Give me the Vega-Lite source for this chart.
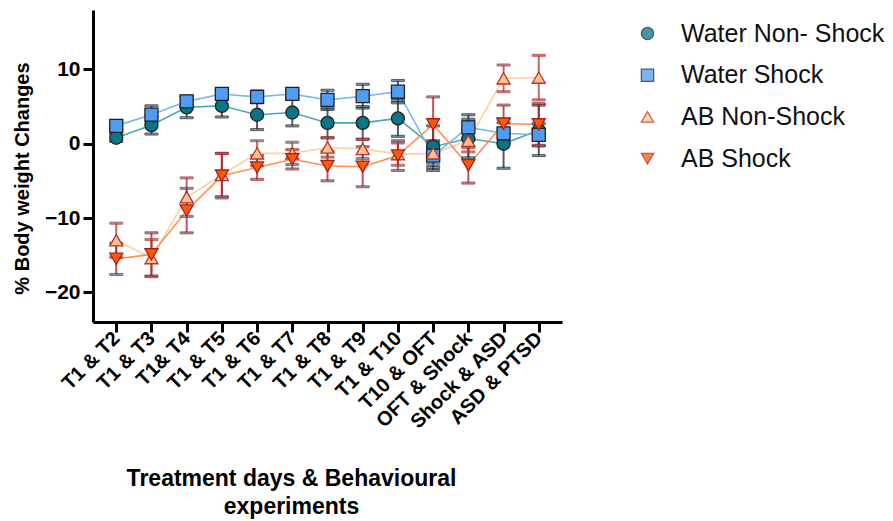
{
  "$schema": "https://vega.github.io/schema/vega-lite/v6.json",
  "width": 469,
  "height": 312,
  "autosize": {"type": "none"},
  "padding": {"left": 93, "top": 10, "right": 331, "bottom": 199},
  "background": "white",
  "config": {
    "view": {"stroke": null},
    "font": "Liberation Sans",
    "axis": {"grid": false, "domainColor": "black", "domainWidth": 3, "tickColor": "black", "tickWidth": 3, "tickSize": 10, "labelFont": "Liberation Sans", "titleFont": "Liberation Sans", "labelColor": "black", "titleColor": "black"},
    "legend": {"labelFontSize": 25, "labelFont": "Liberation Sans", "labelColor": "#111", "symbolSize": 150, "rowPadding": 15.7, "labelOffset": 21, "symbolStrokeWidth": 1.3, "labelLimit": 400}
  },
  "data": {
    "values": [
      {"t": "T1 & T2", "g": "Water Non- Shock", "m": 0.8, "lo": 0.3, "hi": 1.3},
      {"t": "T1 & T3", "g": "Water Non- Shock", "m": 2.5, "lo": 1.3, "hi": 3.7},
      {"t": "T1& T4", "g": "Water Non- Shock", "m": 4.9, "lo": 3.5, "hi": 6.3},
      {"t": "T1 & T5", "g": "Water Non- Shock", "m": 5.1, "lo": 3.6, "hi": 6.6},
      {"t": "T1 & T6", "g": "Water Non- Shock", "m": 3.9, "lo": 1.9, "hi": 5.9},
      {"t": "T1 & T7", "g": "Water Non- Shock", "m": 4.2, "lo": 2.4, "hi": 6.0},
      {"t": "T1 & T8", "g": "Water Non- Shock", "m": 2.8, "lo": 0.8, "hi": 4.8},
      {"t": "T1 & T9", "g": "Water Non- Shock", "m": 2.8, "lo": 0.6, "hi": 5.0},
      {"t": "T1 & T10", "g": "Water Non- Shock", "m": 3.4, "lo": 1.0, "hi": 5.8},
      {"t": "T10 & OFT", "g": "Water Non- Shock", "m": -0.4, "lo": -3.2, "hi": 2.4},
      {"t": "OFT & Shock", "g": "Water Non- Shock", "m": 0.7, "lo": -1.9, "hi": 3.3},
      {"t": "Shock & ASD", "g": "Water Non- Shock", "m": 0.0, "lo": -3.3, "hi": 3.3},
      {"t": "ASD & PTSD", "g": "Water Non- Shock", "m": 1.8, "lo": -1.6, "hi": 5.2},

      {"t": "T1 & T2", "g": "Water Shock", "m": 2.4, "lo": 1.9, "hi": 2.9},
      {"t": "T1 & T3", "g": "Water Shock", "m": 3.9, "lo": 2.7, "hi": 5.1},
      {"t": "T1& T4", "g": "Water Shock", "m": 5.7, "lo": 5.0, "hi": 6.4},
      {"t": "T1 & T5", "g": "Water Shock", "m": 6.7, "lo": 6.1, "hi": 7.3},
      {"t": "T1 & T6", "g": "Water Shock", "m": 6.3, "lo": 5.5, "hi": 7.1},
      {"t": "T1 & T7", "g": "Water Shock", "m": 6.7, "lo": 6.2, "hi": 7.2},
      {"t": "T1 & T8", "g": "Water Shock", "m": 5.9, "lo": 4.6, "hi": 7.2},
      {"t": "T1 & T9", "g": "Water Shock", "m": 6.4, "lo": 4.8, "hi": 8.0},
      {"t": "T1 & T10", "g": "Water Shock", "m": 7.0, "lo": 5.5, "hi": 8.5},
      {"t": "T10 & OFT", "g": "Water Shock", "m": -1.6, "lo": -3.6, "hi": 0.4},
      {"t": "OFT & Shock", "g": "Water Shock", "m": 2.2, "lo": 0.5, "hi": 3.9},
      {"t": "Shock & ASD", "g": "Water Shock", "m": 1.4, "lo": 0.0, "hi": 2.8},
      {"t": "ASD & PTSD", "g": "Water Shock", "m": 1.2, "lo": -0.3, "hi": 2.7},

      {"t": "T1 & T2", "g": "AB Non-Shock", "m": -13.0, "lo": -15.3, "hi": -10.7},
      {"t": "T1 & T3", "g": "AB Non-Shock", "m": -15.4, "lo": -17.9, "hi": -12.9},
      {"t": "T1& T4", "g": "AB Non-Shock", "m": -7.2, "lo": -9.8, "hi": -4.6},
      {"t": "T1 & T5", "g": "AB Non-Shock", "m": -4.2, "lo": -7.1, "hi": -1.3},
      {"t": "T1 & T6", "g": "AB Non-Shock", "m": -1.3, "lo": -3.0, "hi": 0.4},
      {"t": "T1 & T7", "g": "AB Non-Shock", "m": -1.3, "lo": -2.8, "hi": 0.2},
      {"t": "T1 & T8", "g": "AB Non-Shock", "m": -0.5, "lo": -1.8, "hi": 0.8},
      {"t": "T1 & T9", "g": "AB Non-Shock", "m": -0.7, "lo": -2.0, "hi": 0.6},
      {"t": "T1 & T10", "g": "AB Non-Shock", "m": -1.4, "lo": -2.9, "hi": 0.1},
      {"t": "T10 & OFT", "g": "AB Non-Shock", "m": -1.3, "lo": -2.8, "hi": 0.2},
      {"t": "OFT & Shock", "g": "AB Non-Shock", "m": 0.4, "lo": -1.1, "hi": 1.9},
      {"t": "Shock & ASD", "g": "AB Non-Shock", "m": 8.8, "lo": 7.0, "hi": 10.6},
      {"t": "ASD & PTSD", "g": "AB Non-Shock", "m": 8.9, "lo": 5.9, "hi": 11.9},

      {"t": "T1 & T2", "g": "AB Shock", "m": -15.5, "lo": -17.6, "hi": -13.4},
      {"t": "T1 & T3", "g": "AB Shock", "m": -14.9, "lo": -17.8, "hi": -12.0},
      {"t": "T1& T4", "g": "AB Shock", "m": -9.0, "lo": -12.0, "hi": -6.0},
      {"t": "T1 & T5", "g": "AB Shock", "m": -4.3, "lo": -7.3, "hi": -1.3},
      {"t": "T1 & T6", "g": "AB Shock", "m": -3.2, "lo": -4.8, "hi": -1.6},
      {"t": "T1 & T7", "g": "AB Shock", "m": -2.1, "lo": -3.4, "hi": -0.8},
      {"t": "T1 & T8", "g": "AB Shock", "m": -3.0, "lo": -5.0, "hi": -1.0},
      {"t": "T1 & T9", "g": "AB Shock", "m": -3.1, "lo": -5.8, "hi": -0.4},
      {"t": "T1 & T10", "g": "AB Shock", "m": -1.6, "lo": -3.6, "hi": 0.4},
      {"t": "T10 & OFT", "g": "AB Shock", "m": 2.6, "lo": -1.1, "hi": 6.3},
      {"t": "OFT & Shock", "g": "AB Shock", "m": -2.9, "lo": -5.3, "hi": -0.5},
      {"t": "Shock & ASD", "g": "AB Shock", "m": 2.7, "lo": 0.2, "hi": 5.2},
      {"t": "ASD & PTSD", "g": "AB Shock", "m": 2.6, "lo": -0.2, "hi": 5.4}
    ]
  },
  "encoding": {
    "x": {
      "field": "t", "type": "ordinal",
      "sort": ["T1 & T2", "T1 & T3", "T1& T4", "T1 & T5", "T1 & T6", "T1 & T7", "T1 & T8", "T1 & T9", "T1 & T10", "T10 & OFT", "OFT & Shock", "Shock & ASD", "ASD & PTSD"],
      "scale": {"type": "point", "padding": 0.66},
      "axis": {
        "title": ["Treatment days & Behavioural", "experiments"],
        "labelAngle": -45, "labelAlign": "right", "labelBaseline": "middle",
        "labelFontSize": 20, "labelFontWeight": "bold", "labelPadding": 3,
        "titleFontSize": 23, "titleFontWeight": "bold", "titleLineHeight": 28,
        "titleX": 198, "titleY": 145, "titleAnchor": null, "titleAlign": "center", "titleBaseline": "top"
      }
    },
    "y": {
      "field": "m", "type": "quantitative",
      "scale": {"domain": [-24, 18], "nice": false, "zero": false},
      "axis": {
        "title": "% Body weight Changes", "values": [-20, -10, 0, 10],
        "labelFontSize": 21, "labelFontWeight": "bold", "labelPadding": 3,
        "titleFontSize": 20, "titleFontWeight": "bold",
        "titleX": -71, "titleY": 168, "titleAngle": 270, "titleAlign": "center", "titleBaseline": "middle"
      }
    }
  },
  "layer": [
    {"transform": [{"filter": {"field": "g", "equal": "Water Non- Shock"}}], "mark": {"type": "line", "strokeWidth": 1.6, "color": "#4aa7b5"}, "encoding": {}},
    {"transform": [{"filter": {"field": "g", "equal": "Water Shock"}}], "mark": {"type": "line", "strokeWidth": 1.6, "color": "#7ab6f2"}, "encoding": {}},
    {"transform": [{"filter": {"field": "g", "equal": "AB Non-Shock"}}], "mark": {"type": "line", "strokeWidth": 1.6, "color": "#ffcfa3"}, "encoding": {}},
    {"transform": [{"filter": {"field": "g", "equal": "AB Shock"}}], "mark": {"type": "line", "strokeWidth": 1.6, "color": "#ff9150"}, "encoding": {}},
    {
      "mark": {"type": "rule", "strokeWidth": 2, "opacity": 0.75},
      "encoding": {
        "y": {"field": "lo", "type": "quantitative"},
        "y2": {"field": "hi"},
        "stroke": {"field": "g", "type": "nominal", "title": null}
      }
    },
    {
      "mark": {"type": "tick", "orient": "horizontal", "size": 13, "thickness": 2, "opacity": 0.75},
      "encoding": {
        "y": {"field": "lo", "type": "quantitative"},
        "stroke": {"field": "g", "type": "nominal", "title": null}
      }
    },
    {
      "mark": {"type": "tick", "orient": "horizontal", "size": 13, "thickness": 2, "opacity": 0.75},
      "encoding": {
        "y": {"field": "hi", "type": "quantitative"},
        "stroke": {"field": "g", "type": "nominal", "title": null}
      }
    },
    {
      "mark": {"type": "point", "filled": false, "size": 170, "strokeWidth": 1.3, "opacity": 1, "fillOpacity": 1},
      "encoding": {
        "fill": {"field": "g", "type": "nominal", "title": null,
          "scale": {"domain": ["Water Non- Shock", "Water Shock", "AB Non-Shock", "AB Shock"], "range": ["#0a7585", "#4f9cf5", "#ffc28c", "#ff5a00"]},
          "legend": {"orient": "none", "legendX": 542, "legendY": 11}},
        "stroke": {"field": "g", "type": "nominal", "title": null,
          "scale": {"domain": ["Water Non- Shock", "Water Shock", "AB Non-Shock", "AB Shock"], "range": ["#222222", "#222222", "#b8312a", "#a51f1f"]},
          "legend": {"orient": "none", "legendX": 542, "legendY": 11}},
        "shape": {"field": "g", "type": "nominal", "title": null,
          "scale": {"domain": ["Water Non- Shock", "Water Shock", "AB Non-Shock", "AB Shock"], "range": ["circle", "square", "triangle-up", "triangle-down"]},
          "legend": {"orient": "none", "legendX": 542, "legendY": 11}}
      }
    }
  ]
}
